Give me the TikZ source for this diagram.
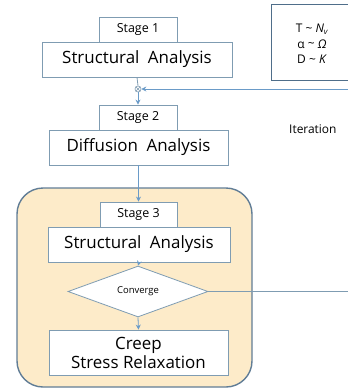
\documentclass[tikz,border=0pt]{standalone}
\usepackage{fontspec}
\setmainfont{Open Sans}
\usetikzlibrary{shapes.geometric,arrows.meta}
\definecolor{boxline}{HTML}{7F9CB2}
\definecolor{arrowc}{HTML}{6A9BC8}
\definecolor{darkline}{HTML}{4F6E8A}
\definecolor{orangefill}{HTML}{FDEBC9}
\tikzset{
  x=1bp, y=-1bp,
  box/.style={draw=boxline, line width=0.8bp, fill=white, inner sep=0pt, align=center, text=black},
  stagebox/.style={box, minimum width=78bp, minimum height=25bp, font=\fontsize{12.5}{14}\selectfont},
  mainbox/.style={box, minimum height=35bp, font=\fontsize{17}{19}\selectfont},
  flow/.style={draw=arrowc, line width=0.8bp, -{Stealth[length=5bp,width=5bp]}},
  plainline/.style={draw=boxline, line width=0.8bp},
}
\begin{document}
\begin{tikzpicture}
\useasboundingbox (0,0) rectangle (348,388);
\clip (0,0) rectangle (348,388);
% legend box
\node[draw=darkline, line width=1.4bp, fill=white, minimum width=90bp, minimum height=76bp, inner sep=0pt, anchor=north west] (legend) at (271,4) {};
\node[font=\fontsize{12}{15.5}\selectfont, align=center, text=black] (legtext) at (312,44) {T \raisebox{0.1ex}{\textasciitilde} \textit{N\textsubscript{v}}\\ α \raisebox{0.1ex}{\textasciitilde} \textit{Ω}\\ D \raisebox{0.1ex}{\textasciitilde} \textit{K}};
% orange box
\draw[draw=darkline!90, line width=1.4bp, fill=orangefill, rounded corners=26bp] (17,188) rectangle (252,387);
% stage 1
\node[stagebox] (s1) at (138,29.5) {Stage 1};
\node[mainbox, minimum width=190bp] (a1) at (137,59.5) {Structural\hspace{0.5em}Analysis};
% junction
\node[circle, draw=boxline, line width=0.6bp, fill=white, inner sep=0pt, minimum size=6bp] (j) at (138,89) {};
\draw[boxline, line width=0.5bp] (j.north east) -- (j.south west) (j.north west) -- (j.south east);
% stage 2
\node[stagebox] (s2) at (138,117.5) {Stage 2};
\node[mainbox, minimum width=179bp] (a2) at (138.5,147.5) {Diffusion\hspace{0.5em}Analysis};
% stage 3
\node[stagebox, minimum width=77bp] (s3) at (138.5,214.5) {Stage 3};
\node[mainbox, minimum width=182bp] (a3) at (139,244.5) {Structural\hspace{0.5em}Analysis};
\node[diamond, draw=boxline, line width=0.8bp, fill=white, inner sep=0pt, minimum width=140bp, minimum height=39bp, font=\fontsize{9.5}{12}\selectfont, text=black] (cv) at (138,291.5) {Converge};
\node[box, minimum width=179bp, minimum height=45bp, font=\fontsize{17}{19}\selectfont] (cr) at (138.5,352.5) {Creep\\Stress Relaxation};
% iteration label
\node[font=\fontsize{12}{14}\selectfont, text=black, anchor=west, inner sep=0pt] (it) at (289,129) {Iteration};
% connectors
\coordinate (itR) at (349,89);
\coordinate (cvR) at (349,291.5);
\draw[plainline] (a1.south) -- (j.north);
\draw[flow] (j.south) -- (s2.north);
\draw[flow] (itR) -- (j.east);
\draw[flow] (a2.south) -- (s3.north);
\draw[flow] (a3.south) -- (cv.north);
\draw[flow] (cv.south) -- (cr.north);
\draw[plainline] (cv.east) -- (cvR);
\end{tikzpicture}
\end{document}
